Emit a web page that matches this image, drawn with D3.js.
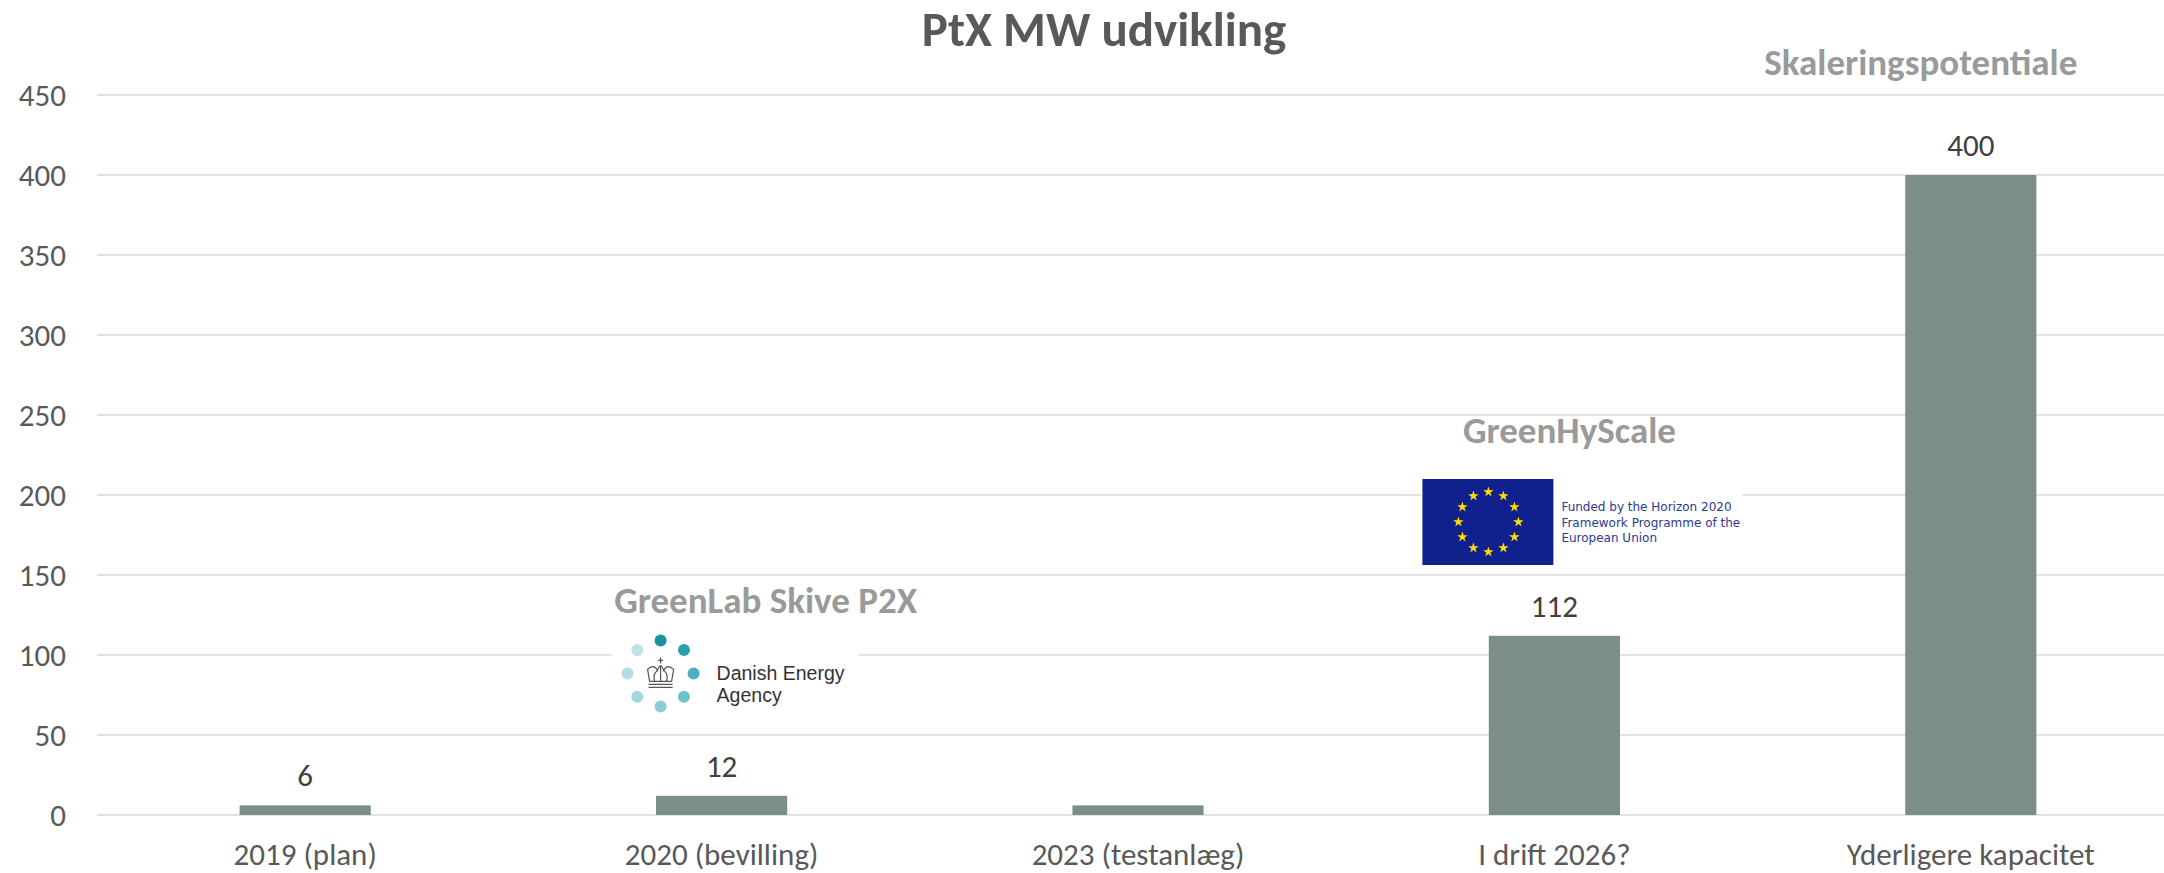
<!DOCTYPE html>
<html>
<head>
<meta charset="utf-8">
<script src="https://cdn.jsdelivr.net/npm/d3@7"></script>
<style>
  body { margin: 0; background: #fff; }
  svg { display: block; }
</style>
</head>
<body>
<svg id="chart" width="2164" height="873"></svg>
<script>
// PtX capacity (MW) per project stage
const categories = ["2019 (plan)", "2020 (bevilling)", "2023 (testanlæg)", "I drift 2026?", "Yderligere kapacitet"];
const values = [6, 12, 6, 112, 400];
const valueLabels = ["6", "12", "", "112", "400"];
const yTicks = [0, 50, 100, 150, 200, 250, 300, 350, 400, 450];
const chartTitle = "PtX MW udvikling";
const projectNames = ["GreenLab Skive P2X", "GreenHyScale", "Skaleringspotentiale"];
const euText = ["Funded by the Horizon 2020", "Framework Programme of the", "European Union"];
const deaText = ["Danish Energy", "Agency"];

const W = 2164, H = 873;
const FONT = "Carlito, Calibri, Lato, sans-serif";
const svg = d3.select("#chart");

const x = d3.scaleBand()
  .domain(categories)
  .range([97, 2179])
  .paddingInner(0.685)
  .paddingOuter(0.3425);
const y = d3.scaleLinear().domain([0, 450]).range([815, 95]);
const cx = c => x(c) + x.bandwidth() / 2;

// gridlines
svg.append("g")
  .selectAll("line")
  .data(yTicks)
  .join("line")
  .attr("x1", 97).attr("x2", W)
  .attr("y1", d => y(d)).attr("y2", d => y(d))
  .attr("stroke", "#d9d9d9").attr("stroke-width", 1.5);

// y axis labels
const yAxis = d3.axisLeft(y).tickValues(yTicks).tickSize(0).tickPadding(0);
const gy = svg.append("g").attr("transform", "translate(66,0)").call(yAxis);
gy.select(".domain").remove();
gy.selectAll("text")
  .attr("font-family", FONT).attr("font-size", 31)
  .attr("fill", "#595959").attr("dy", "0.35em");

// bars
svg.append("g")
  .selectAll("rect")
  .data(values)
  .join("rect")
  .attr("x", (d, i) => x(categories[i]))
  .attr("width", x.bandwidth())
  .attr("y", d => y(d))
  .attr("height", d => y(0) - y(d))
  .attr("fill", "#7b8f88");

// value labels
svg.append("g")
  .selectAll("text")
  .data(values)
  .join("text")
  .attr("x", (d, i) => cx(categories[i]))
  .attr("y", d => y(d) - 19)
  .attr("text-anchor", "middle")
  .attr("font-family", FONT).attr("font-size", 31)
  .attr("fill", "#404040")
  .text((d, i) => valueLabels[i]);

// category axis
const xAxis = d3.axisBottom(x).tickSize(0).tickPadding(0);
const gx = svg.append("g").attr("transform", "translate(0,865)").call(xAxis);
gx.select(".domain").remove();
gx.selectAll("text")
  .attr("font-family", FONT).attr("font-size", 31)
  .attr("fill", "#595959").attr("dy", 0);

// title
svg.append("text")
  .attr("x", 1104).attr("y", 46)
  .attr("text-anchor", "middle")
  .attr("font-family", FONT).attr("font-weight", 700).attr("font-size", 49)
  .attr("fill", "#595959")
  .text(chartTitle);

// Danish Energy Agency badge
const dea = svg.append("g");
const deaX = cx(categories[1]) - 61, deaY = y(88.5);
dea.append("rect").attr("x", deaX - 49).attr("y", y(117)).attr("width", 247).attr("height", 100).attr("fill", "#fff");
const dotColors = ["#17929f", "#2aa1ae", "#4bb2be", "#6dc1cb", "#8ccdd6", "#a4d8df", "#b3dee4", "#bfe3e8"];
dea.selectAll("circle")
  .data(dotColors)
  .join("circle")
  .attr("cx", (d, i) => deaX + 33 * Math.sin(i * Math.PI / 4))
  .attr("cy", (d, i) => deaY - 33 * Math.cos(i * Math.PI / 4))
  .attr("r", 6)
  .attr("fill", d => d);
// crown
const crown = dea.append("g").attr("transform", `translate(${deaX},${deaY})`)
  .attr("fill", "none").attr("stroke", "#555").attr("stroke-width", 1.2);
crown.append("path").attr("d", "M-11,8 L-13,-4 Q-7,-10 -3,-3 Q0,-12 3,-3 Q7,-10 13,-4 L11,8 Z");
crown.append("path").attr("d", "M-6,8 Q-8,0 -3,-3 M6,8 Q8,0 3,-3 M0,8 L0,-8");
crown.append("path").attr("d", "M-12,11 H12 M-12,14 H12");
crown.append("path").attr("d", "M0,-10 V-16 M-2.5,-13 H2.5");
dea.selectAll("text.dea")
  .data(deaText)
  .join("text")
  .attr("class", "dea")
  .attr("x", deaX + 56)
  .attr("y", (d, i) => deaY + 7 + i * 22)
  .attr("font-family", "Liberation Sans, Arial, sans-serif").attr("font-size", 19.5)
  .attr("fill", "#333")
  .text(d => d);

// EU funding badge
const eu = svg.append("g");
const flagX = cx(categories[3]) - 132, flagY = y(210);
eu.append("rect").attr("x", flagX - 1).attr("y", y(213)).attr("width", 321).attr("height", 94).attr("fill", "#fff");
eu.append("rect").attr("x", flagX).attr("y", flagY).attr("width", 131).attr("height", 86).attr("fill", "#10208c");
const star = d3.symbol().type(d3.symbolStar).size(34);
eu.selectAll("path.star")
  .data(d3.range(12))
  .join("path")
  .attr("class", "star")
  .attr("d", star)
  .attr("transform", i => `translate(${flagX + 66 + 30 * Math.sin(i * Math.PI / 6)},${flagY + 43 - 30 * Math.cos(i * Math.PI / 6)})`)
  .attr("fill", "#ffdd00");
eu.selectAll("text.eu")
  .data(euText)
  .join("text")
  .attr("class", "eu")
  .attr("x", flagX + 139)
  .attr("y", (d, i) => flagY + 32 + i * 15.5)
  .attr("font-family", "DejaVu Sans, Verdana, sans-serif").attr("font-size", 12)
  .attr("fill", "#2b3990")
  .text(d => d);

// project annotations
const notes = [
  { text: projectNames[0], x: cx(categories[1]) + 44, y: y(126) },
  { text: projectNames[1], x: cx(categories[3]) + 15, y: y(232.5) },
  { text: projectNames[2], x: cx(categories[4]) - 50, y: y(462.5) }
];
svg.append("g")
  .selectAll("text")
  .data(notes)
  .join("text")
  .attr("x", d => d.x).attr("y", d => d.y)
  .attr("text-anchor", "middle")
  .attr("font-family", FONT).attr("font-weight", 700).attr("font-size", 37)
  .attr("fill", "#9a9a9a")
  .text(d => d.text);
</script>
</body>
</html>
